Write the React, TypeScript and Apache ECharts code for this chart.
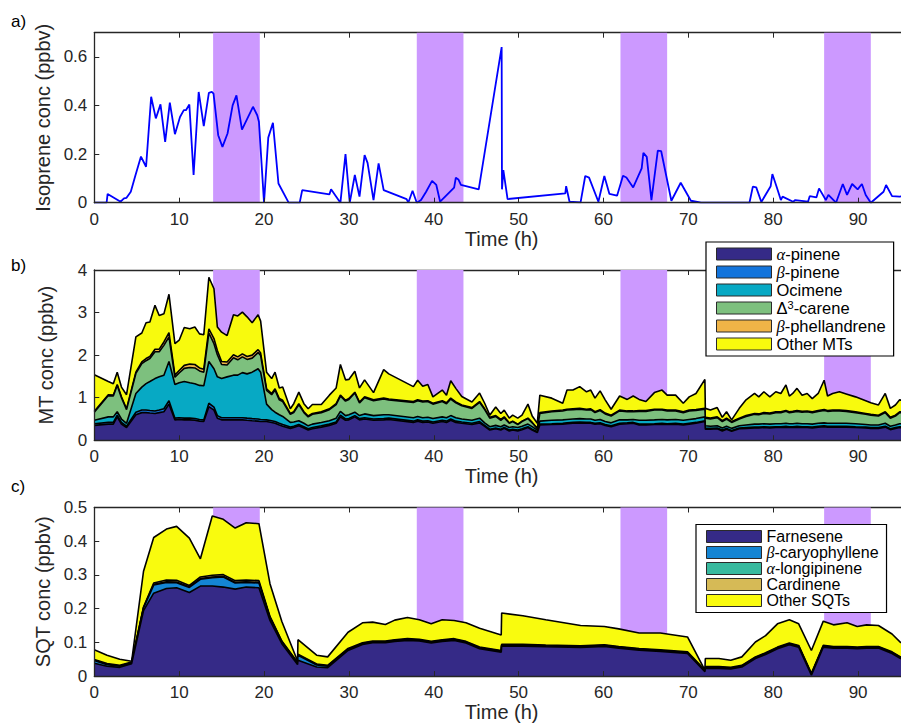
import React, { useEffect, useRef } from "react";
import * as echarts from "echarts";

// ---------------- data ----------------
// periods shaded in purple (h)
const nightStart = [14, 38, 62, 86];
const nightEnd = [19.5, 43.5, 67.5, 91.5];

// a) isoprene
const isoTime = [0, 1.45, 1.57, 3.1, 3.5, 3.8, 4.3, 4.8, 5.5, 6.1,
  6.7, 7.25, 7.8, 8.35, 8.9, 9.5, 10.1, 10.55, 10.8, 11.2,
  11.7, 12.3, 12.9, 13.5, 13.85, 14.05, 14.6, 15.1, 15.7, 16.3,
  16.75, 17.4, 18.7, 19.2, 19.4, 20.0, 20.5, 21.05, 21.7, 22.9,
  24.2, 24.5, 27.7, 27.9, 29.0, 29.6, 30.1, 30.7, 31.25, 31.85,
  32.2, 32.9, 33.5, 34.1, 36.8, 37.0, 37.5, 38.0, 38.5, 39.1,
  39.8, 40.3, 40.75, 42.4, 42.6, 42.9, 43.2, 45.3, 48.0, 48.04,
  48.2, 48.7, 55.5, 55.6, 56.0, 57.3, 57.85, 58.3, 59.4, 60.1,
  60.7, 61.6, 62.3, 62.7, 63.5, 64.5, 64.7, 65.1, 65.65, 66.4,
  66.8, 68.0, 69.1, 70.3, 71.5, 77.2, 77.6, 78.0, 78.6, 79.7,
  79.9, 80.4, 80.9, 81.1, 82.35, 82.6, 84.1, 84.3, 85.1, 85.4,
  86.2, 86.5, 87.4, 88.2, 88.7, 89.3, 89.95, 90.45, 90.9, 91.5,
  93.0, 93.3, 94.0, 94.9, 96.0];
const isoprene = [0, 0, 0.036, 0.004, 0.018, 0.02, 0.045, 0.107, 0.19, 0.148,
  0.436, 0.347, 0.405, 0.25, 0.412, 0.282, 0.353, 0.381, 0.381, 0.404,
  0.114, 0.456, 0.315, 0.452, 0.456, 0.449, 0.278, 0.23, 0.285, 0.401,
  0.442, 0.301, 0.395, 0.36, 0.333, 0, 0.268, 0.329, 0.079, 0,
  0, 0.052, 0.034, 0.055, 0, 0.2, 0, 0.114, 0.025, 0.196,
  0.164, 0.011, 0.162, 0.052, 0.015, 0, 0.049, 0, 0.011, 0.045,
  0.09, 0.073, 0.004, 0.062, 0.103, 0.096, 0.073, 0.055, 0.641, 0.055,
  0.134, 0.015, 0.038, 0.068, 0.004, 0.001, 0.11, 0.103, 0.004, 0.11,
  0.036, 0.029, 0.111, 0.104, 0.063, 0.141, 0.205, 0.189, 0.011, 0.214,
  0.212, 0.008, 0.082, 0.008, 0, 0, 0.066, 0.063, 0.003, 0.068,
  0.118, 0.066, 0.011, 0.025, 0.004, 0.011, 0.004, 0.027, 0.022, 0.059,
  0.011, 0.032, 0, 0.077, 0.032, 0.077, 0.055, 0.077, 0.032, 0,
  0.045, 0.073, 0.027, 0.025, 0.03];

// b) monoterpenes (layer thickness, ppbv)
const mtTime = [0, 1.65, 2.24, 2.7, 3.2, 3.8, 4.9, 5.6, 6.1, 6.55,
  7.15, 7.65, 8.2, 8.8, 9.5, 10.0, 10.6, 11.25, 11.85, 12.4,
  12.9, 13.5, 14.1, 14.5, 15.0, 15.65, 16.4, 16.9, 17.45, 18.0,
  18.6, 19.3, 19.6, 20.3, 20.9, 21.3, 21.8, 22.2, 23.1, 23.5,
  24.1, 24.7, 25.2, 25.7, 26.75, 27.7, 28.5, 29.0, 29.6, 30.0,
  30.7, 31.25, 31.85, 32.9, 34.1, 34.7, 37.6, 38.1, 38.7, 39.3,
  39.9, 41.0, 41.5, 42.0, 42.6, 43.3, 44.5, 45.4, 46.0, 46.6,
  47.3, 47.9, 48.3, 48.9, 49.3, 49.9, 50.4, 51.1, 51.6, 52.2,
  52.5, 53.9, 55.2, 55.7, 56.4, 57.2, 58.0, 58.5, 59.0, 59.6,
  60.2, 60.9, 61.9, 62.8, 63.5, 64.2, 65.0, 66.0, 66.9, 67.5,
  68.5, 69.4, 70.1, 70.9, 71.95, 72.0, 72.6, 73.4, 74.0, 74.5,
  75.1, 76.0, 76.8, 77.8, 78.3, 78.9, 79.6, 80.3, 80.9, 81.5,
  81.9, 82.3, 82.8, 83.4, 84.0, 84.6, 85.3, 86.0, 86.4, 87.0,
  87.8, 88.6, 89.7, 90.9, 91.5, 92.4, 93.2, 93.8, 94.4, 94.9,
  96];
const aPinene = [.35, .38, .38, .55, .38, .30, .60, .65, .65, .64,
  .63, .65, .67, .85, .48, .49, .48, .48, .47, .45,
  .44, .79, .71, .52, .48, .48, .48, .48, .48, .47,
  .46, .45, .44, .44, .42, .40, .36, .33, .28, .30,
  .34, .29, .24, .27, .31, .35, .40, .55, .47, .48,
  .55, .48, .50, .47, .48, .49, .42, .45, .42, .43,
  .40, .44, .42, .47, .42, .40, .37, .41, .33, .24,
  .27, .24, .28, .22, .24, .22, .25, .30, .24, .18,
  .36, .37, .38, .39, .40, .41, .40, .40, .38, .39,
  .35, .32, .38, .39, .40, .36, .36, .37, .38, .37,
  .38, .36, .38, .40, .44, .26, .26, .27, .22, .26,
  .21, .27, .28, .29, .29, .30, .29, .30, .30, .31,
  .30, .30, .31, .30, .30, .29, .31, .32, .31, .31,
  .31, .31, .30, .29, .28, .28, .31, .25, .28, .30,
  .29];
const bPinene = [.04, .04, .04, .04, .04, .03, .06, .06, .06, .06,
  .06, .06, .07, .08, .04, .04, .04, .04, .04, .04,
  .04, .08, .07, .06, .05, .05, .05, .05, .05, .05,
  .05, .05, .05, .04, .04, .04, .04, .04, .03, .03,
  .03, .03, .03, .03, .03, .03, .03, .04, .03, .03,
  .03, .03, .03, .03, .03, .03, .03, .03, .03, .03,
  .03, .03, .03, .03, .03, .03, .03, .03, .02, .02,
  .02, .02, .02, .02, .02, .02, .02, .02, .02, .02,
  .02, .02, .02, .02, .02, .02, .02, .02, .02, .02,
  .02, .02, .02, .02, .02, .02, .02, .02, .02, .02,
  .02, .02, .02, .02, .02, .02, .02, .02, .02, .02,
  .02, .02, .02, .02, .02, .02, .02, .02, .02, .02,
  .02, .02, .02, .02, .02, .02, .02, .02, .02, .02,
  .02, .02, .02, .02, .02, .02, .02, .02, .02, .02,
  .02];
const ocimene = [.08, .13, .13, .08, .08, .07, .44, .54, .62, .68,
  .76, .78, .79, .92, .79, .82, .86, .83, .82, .80,
  .80, .98, .90, .91, .92, .96, 1.00, 1.00, 1.06, 1.04,
  1.09, 1.18, 1.11, .37, .26, .22, .20, .19, .11, .10,
  .09, .08, .07, .08, .08, .08, .09, .09, .08, .09,
  .08, .07, .09, .08, .09, .08, .08, .08, .08, .08,
  .08, .08, .08, .08, .08, .07, .07, .08, .06, .06,
  .06, .06, .06, .06, .06, .06, .06, .06, .06, .04,
  .07, .08, .08, .08, .08, .08, .08, .08, .07, .08,
  .07, .07, .08, .07, .07, .09, .09, .09, .09, .09,
  .09, .09, .09, .09, .09, .06, .05, .05, .05, .05,
  .05, .05, .06, .07, .07, .07, .07, .07, .07, .07,
  .07, .07, .07, .07, .07, .07, .07, .07, .07, .07,
  .07, .07, .07, .06, .06, .06, .07, .06, .06, .07,
  .07];
const carene = [.19, .50, .49, .62, .50, .32, .47, .55, .54, .54,
  .63, .59, .70, .58, .17, .23, .31, .36, .37, .34,
  .32, .67, .59, .52, .33, .28, .41, .36, .37, .34,
  .33, .38, .39, .32, .35, .52, .35, .35, .19, .22,
  .38, .25, .21, .23, .23, .26, .32, .36, .34, .36,
  .45, .30, .38, .35, .37, .35, .36, .37, .37, .37,
  .34, .36, .33, .39, .35, .31, .28, .37, .31, .20,
  .21, .15, .17, .10, .12, .07, .11, .13, .09, .03,
  .18, .20, .21, .22, .22, .22, .21, .22, .18, .21,
  .18, .16, .21, .19, .18, .21, .21, .23, .22, .21,
  .20, .18, .20, .19, .18, .18, .17, .19, .15, .17,
  .14, .16, .20, .23, .22, .24, .24, .26, .26, .28,
  .26, .27, .28, .27, .28, .27, .28, .29, .28, .29,
  .29, .28, .26, .24, .23, .21, .25, .19, .21, .26,
  .25];
const phellandrene = [.02, .02, .02, .02, .02, .02, .03, .04, .05, .05,
  .06, .06, .08, .10, .05, .06, .07, .08, .08, .07,
  .07, .10, .12, .10, .07, .07, .07, .07, .07, .07,
  .07, .07, .06, .04, .03, .03, .03, .03, .02, .02,
  .02, .02, .02, .02, .02, .02, .02, .02, .02, .02,
  .02, .02, .02, .02, .02, .02, .02, .02, .02, .02,
  .02, .02, .02, .02, .02, .02, .02, .02, .02, .02,
  .02, .02, .02, .01, .01, .01, .01, .01, .01, .01,
  .02, .02, .02, .02, .02, .02, .02, .02, .02, .02,
  .02, .02, .02, .02, .02, .02, .02, .02, .02, .02,
  .02, .02, .02, .02, .02, .02, .02, .02, .02, .02,
  .02, .02, .02, .02, .02, .02, .02, .02, .02, .02,
  .02, .02, .02, .02, .02, .02, .02, .02, .02, .02,
  .02, .02, .02, .02, .02, .02, .02, .02, .02, .02,
  .02];
const otherMTs = [.86, .31, .27, .29, .23, .33, .83, .68, .84, .81,
  1.03, .79, .66, .90, .74, .71, .89, .83, .88, .80,
  .81, 1.21, 1.17, .55, .69, .62, .94, .96, .98, .93,
  .76, .82, .75, .39, .35, .39, .25, .31, .11, .19,
  .27, .19, .17, .21, .17, .32, .37, .72, .48, .45,
  .49, .33, .40, .17, .67, .59, .35, .46, .35, .38,
  .15, .25, .18, .41, .32, .20, .13, .20, .13, .05,
  .20, .14, .16, .11, .14, .14, .14, .33, .15, .12,
  .41, .30, .16, .45, .44, .51, .41, .44, .32, .44,
  .31, .14, .33, .27, .35, .26, .21, .39, .45, .35,
  .35, .20, .31, .38, .68, .21, .19, .22, .08, .15,
  .04, .23, .37, .47, .40, .49, .38, .47, .43, .60,
  .37, .42, .52, .38, .41, .31, .40, .69, .34, .39,
  .43, .39, .35, .30, .27, .24, .43, .21, .24, .28,
  .25];

// c) sesquiterpenes (layer thickness, ppbv)
const sqtTime = [0, 1.5, 3.0, 4.4, 5.8, 7.0, 8.5, 9.7, 11.2, 12.5,
  13.9, 15.2, 16.6, 17.9, 19.4, 20.7, 22.1, 23.95, 24.0, 26.2,
  27.5, 29.9, 31.6, 32.8, 34.3, 35.4, 36.9, 38.3, 39.7, 41.0,
  42.4, 43.8, 45.4, 47.95, 48.0, 50.5, 53.2, 57.3, 60.1, 61.8,
  64.2, 66.7, 69.9, 71.95, 72.0, 73.6, 75.0, 76.3, 77.9, 79.1,
  80.5, 81.9, 83.0, 84.5, 85.9, 87.1, 88.7, 89.9, 91.0, 92.4,
  94.0, 95.0, 96.0];
const farnesene = [.038, .029, .026, .037, .194, .246, .260, .262, .248, .267,
  .267, .264, .258, .264, .262, .165, .096, .034, .047, .027,
  .025, .076, .094, .099, .099, .103, .106, .104, .098, .103,
  .106, .098, .081, .071, .089, .089, .087, .085, .088, .083,
  .077, .073, .067, .013, .023, .023, .021, .027, .052, .064,
  .081, .093, .086, .003, .086, .083, .083, .081, .083, .083,
  .067, .052, .045];
const bCaryophyllene = [.008, .005, .003, .002, .008, .024, .018, .015, .015, .020,
  .025, .030, .018, .014, .014, .008, .005, .004, .015, .006,
  .004, .003, .002, .002, .002, .002, .002, .002, .002, .002,
  .002, .002, .002, .002, .002, .002, .002, .002, .002, .002,
  .002, .002, .002, .002, .002, .002, .002, .002, .002, .002,
  .002, .002, .002, .002, .002, .002, .002, .002, .002, .002,
  .002, .002, .002];
const aLongipinene = [.001, .001, .001, .001, .001, .002, .002, .002, .002, .002,
  .002, .002, .002, .002, .002, .001, .001, .001, .001, .001,
  .001, .001, .001, .001, .001, .001, .001, .001, .001, .001,
  .001, .001, .001, .001, .001, .001, .001, .001, .001, .001,
  .001, .001, .001, .001, .001, .001, .001, .001, .001, .001,
  .001, .001, .001, .001, .001, .001, .001, .001, .001, .001,
  .001, .001, .001];
const cardinene = [.002, .002, .002, .002, .002, .004, .005, .005, .004, .005,
  .005, .005, .005, .005, .005, .003, .002, .002, .002, .002,
  .002, .002, .002, .002, .002, .002, .002, .002, .002, .002,
  .002, .002, .002, .002, .002, .002, .002, .002, .002, .002,
  .002, .002, .002, .002, .002, .002, .002, .002, .002, .002,
  .002, .002, .002, .002, .002, .002, .002, .002, .002, .002,
  .002, .002, .002];
const otherSQTs = [.029, .025, .018, .002, .106, .135, .151, .160, .140, .054,
  .176, .164, .156, .170, .169, .097, .058, .004, .043, .026,
  .025, .048, .059, .056, .049, .058, .063, .058, .052, .059,
  .054, .055, .056, .046, .093, .085, .075, .060, .054, .052,
  .046, .050, .044, .000, .024, .024, .021, .025, .044, .051,
  .069, .069, .064, .068, .072, .064, .070, .061, .064, .062,
  .053, .043, .040];

// ---------------- styling ----------------
const FONT = "'Liberation Sans', Arial, Helvetica, sans-serif";
const SERIF = "'Liberation Serif', 'DejaVu Serif', serif";
const AXC = "#262626";
const SHADE = "#CC99FF";
const X_MAX = 96;
const PX_PER_H = 8.5;
const LEFT = 94.3;

const mtLayers = [
  { name: "α-pinene", color: "#352A87", values: aPinene },
  { name: "β-pinene", color: "#1274DC", values: bPinene },
  { name: "Ocimene", color: "#07A9C4", values: ocimene },
  { name: "Δ3-carene", color: "#7DC07E", values: carene },
  { name: "β-phellandrene", color: "#F0B447", values: phellandrene },
  { name: "Other MTs", color: "#F8FA0D", values: otherMTs },
];
const sqtLayers = [
  { name: "Farnesene", color: "#352A87", values: farnesene },
  { name: "β-caryophyllene", color: "#1485D4", values: bCaryophyllene },
  { name: "α-longipinene", color: "#38B99E", values: aLongipinene },
  { name: "Cardinene", color: "#D6BA56", values: cardinene },
  { name: "Other SQTs", color: "#F9FB0E", values: otherSQTs },
];

const panels = [
  { top: 32.7, height: 170, yMax: 0.7, yInt: 0.2, yName: "Isoprene conc (ppbv)", letter: "a)", letterY: 22 },
  { top: 270, height: 170.3, yMax: 4, yInt: 1, yName: "MT conc (ppbv)", letter: "b)", letterY: 266 },
  { top: 507.5, height: 170.2, yMax: 0.5, yInt: 0.1, yName: "SQT conc (ppbv)", letter: "c)", letterY: 486.5 },
];

function isMultiple(v: number, step: number) {
  const r = v / step;
  return Math.abs(r - Math.round(r)) < 1e-6;
}

function stackedSeries(time: number[], layers: { name: string; color: string; values: number[] }[], panel: number) {
  const tops: number[][] = [];
  let acc = time.map(() => 0);
  layers.forEach((l) => {
    acc = acc.map((a, i) => a + l.values[i]);
    tops.push(acc);
  });
  const out: any[] = [];
  for (let k = layers.length - 1; k >= 0; k--) {
    const l = layers[k];
    out.push({
      type: "line",
      name: l.name,
      xAxisIndex: panel * 2,
      yAxisIndex: panel,
      data: time.map((t, i) => [t, Math.round(tops[k][i] * 10000) / 10000]),
      symbol: "none",
      showSymbol: false,
      silent: true,
      z: 2 + (layers.length - 1 - k),
      lineStyle: { color: "#000", width: 1.6 },
      itemStyle: { color: l.color },
      areaStyle: { color: l.color, opacity: 1 },
    });
  }
  return out;
}

function shadeSeries(panel: number) {
  return {
    type: "line",
    xAxisIndex: panel * 2,
    yAxisIndex: panel,
    data: [],
    z: 1,
    silent: true,
    markArea: {
      silent: true,
      itemStyle: { color: SHADE, opacity: 1 },
      data: nightStart.map((s, i) => [{ xAxis: s }, { xAxis: nightEnd[i] }]),
    },
  };
}

function legendFormatter(name: string) {
  if (name === "Δ3-carene") return "{n|Δ}{sup|3}{n|-carene}";
  const m = name.match(/^([αβ])(.*)$/);
  if (m) return "{g|" + m[1] + "}{n|" + m[2] + "}";
  return "{n|" + name + "}";
}

function legendRich(fs: number, lh: number) {
  return {
    n: { fontSize: fs, fontFamily: FONT, color: "#000", lineHeight: lh },
    g: { fontSize: fs, fontFamily: SERIF, fontStyle: "italic", color: "#000", lineHeight: lh },
    sup: { fontSize: 11, fontFamily: FONT, color: "#000", lineHeight: lh, verticalAlign: "top" },
  };
}

function buildOption() {
  const grid = panels.map((p) => ({
    left: LEFT,
    top: p.top,
    width: X_MAX * PX_PER_H,
    height: p.height,
    containLabel: false,
  }));
  const xAxis: any[] = [];
  panels.forEach((p, i) => {
    const base = {
      type: "value",
      gridIndex: i,
      min: 0,
      max: X_MAX,
      interval: 10,
      splitLine: { show: false },
      axisTick: { show: true, inside: true, length: 5, lineStyle: { color: AXC, width: 1 } },
      axisLine: { show: true, onZero: false, lineStyle: { color: AXC, width: 1.3 } },
    };
    xAxis.push({
      ...base,
      position: "bottom",
      z: 10,
      axisLabel: {
        color: AXC,
        fontSize: 17,
        fontFamily: FONT,
        margin: 8,
        formatter: (v: number) => (isMultiple(v, 10) ? String(Math.round(v)) : ""),
      },
      name: "Time (h)",
      nameLocation: "middle",
      nameGap: 20,
      nameTextStyle: { color: AXC, fontSize: 20, fontFamily: FONT },
    });
    xAxis.push({ ...base, position: "top", axisLabel: { show: false } });
  });
  const yAxis = panels.map((p, i) => ({
    type: "value",
    gridIndex: i,
    min: 0,
    max: p.yMax,
    interval: p.yInt,
    z: 10,
    splitLine: { show: false },
    axisTick: { show: true, inside: true, length: 5, lineStyle: { color: AXC, width: 1 } },
    axisLine: { show: true, onZero: false, lineStyle: { color: AXC, width: 1.3 } },
    axisLabel: {
      color: AXC,
      fontSize: 17,
      fontFamily: FONT,
      margin: 7,
      formatter: (v: number) => (isMultiple(v, p.yInt) ? String(Math.round(v * 10) / 10) : ""),
    },
    name: p.yName,
    nameLocation: "middle",
    nameGap: 38,
    nameTextStyle: { color: AXC, fontSize: 20, fontFamily: FONT },
  }));

  const series: any[] = [
    shadeSeries(0),
    shadeSeries(1),
    shadeSeries(2),
    {
      type: "line",
      name: "Isoprene",
      xAxisIndex: 0,
      yAxisIndex: 0,
      data: isoTime.map((t, i) => [t, isoprene[i]]),
      symbol: "none",
      showSymbol: false,
      silent: true,
      z: 3,
      lineStyle: { color: "#0000FF", width: 1.8 },
    },
    ...stackedSeries(mtTime, mtLayers, 1),
    ...stackedSeries(sqtTime, sqtLayers, 2),
  ];

  const legendBase = {
    orient: "vertical",
    itemWidth: 55,
    itemHeight: 12,
    itemGap: 0,
    backgroundColor: "#fff",
    borderColor: "#000",
    borderWidth: 1.2,
    icon: "rect",
    selectedMode: false,
    itemStyle: { borderColor: "#2a2a2a", borderWidth: 1 },
    formatter: legendFormatter,
  };
  const legend = [
    {
      ...legendBase,
      left: 706,
      top: 242,
      padding: [3, 8, 3, 10],
      textStyle: { fontSize: 16.5, fontFamily: FONT, color: "#000", lineHeight: 18, rich: legendRich(16.5, 18) },
      data: mtLayers.map((l) => ({ name: l.name, itemStyle: { color: l.color } })),
    },
    {
      ...legendBase,
      left: 696,
      top: 524.5,
      padding: [4, 8, 4, 10],
      textStyle: { fontSize: 16, fontFamily: FONT, color: "#000", lineHeight: 15.4, rich: legendRich(16, 15.4) },
      data: sqtLayers.map((l) => ({ name: l.name, itemStyle: { color: l.color } })),
    },
  ];

  const graphic = panels.map((p) => ({
    type: "text",
    left: 11,
    top: p.letterY - 9,
    style: { text: p.letter, fontSize: 17, fontFamily: FONT, fill: "#000" },
  }));

  return {
    animation: false,
    backgroundColor: "#fff",
    textStyle: { fontFamily: FONT },
    grid,
    xAxis,
    yAxis,
    legend,
    graphic,
    series,
  };
}

export default function App() {
  const ref = useRef<HTMLDivElement | null>(null);
  useEffect(() => {
    if (!ref.current) return;
    const chart = echarts.init(ref.current, undefined, { renderer: "svg" });
    chart.setOption(buildOption() as any);
    return () => chart.dispose();
  }, []);
  return (
    <div style={{ position: "absolute", left: 0, top: 0, width: 901, height: 723, overflow: "hidden", background: "#fff" }}>
      <div ref={ref} style={{ width: 912, height: 723 }} />
    </div>
  );
}
